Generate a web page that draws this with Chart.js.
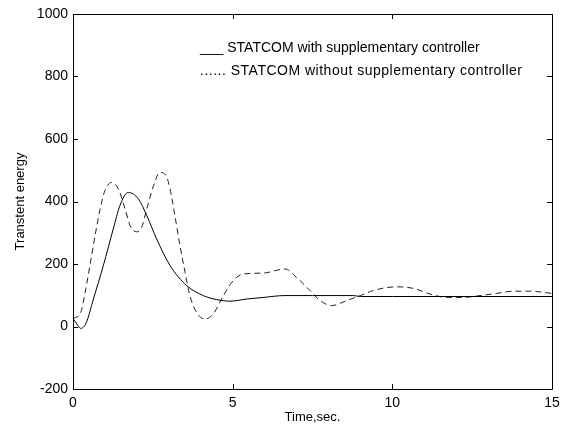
<!DOCTYPE html>
<html>
<head>
<meta charset="utf-8">
<script src="https://cdn.jsdelivr.net/npm/chart.js@4.4.0/dist/chart.umd.min.js"></script>
<style>
  html, body { margin: 0; padding: 0; background: #fff; }
  #wrap { width: 567px; height: 430px; }
</style>
</head>
<body>
<div id="wrap"><canvas id="chart" width="567" height="430"></canvas></div>
<script>
// values
const timeWith = [0, 0.12, 0.24, 0.41, 0.64, 0.95, 1.26, 1.47, 1.73, 2.05, 2.31, 2.62, 3.04, 3.56, 4.08, 4.5, 4.92, 5.44, 5.96, 6.64, 7.5, 8.78, 9.0, 10, 12, 15];
const energyWith = [26, 8, -6, 11, 88, 195, 312, 387, 429, 408, 355, 280, 195, 131, 99, 86, 81, 88, 93, 99, 99, 99, 96, 96, 96, 96];

const timeWithout = [0, 0.24, 0.38, 0.53, 0.69, 0.85, 1.0, 1.21, 1.42, 1.63, 1.79, 1.99, 2.15, 2.31, 2.52, 2.72, 2.9, 3.04, 3.19, 3.35, 3.51, 3.66, 3.87, 4.13, 4.39, 4.71, 5.02, 5.33, 5.96, 6.64, 7.0, 7.42, 7.74, 8.1, 8.57, 9.0, 9.4, 10.14, 10.66, 11.18, 11.7, 12.22, 12.75, 13.27, 13.79, 14.3, 15];
const energyWithout = [25, 45, 109, 195, 290, 376, 435, 461, 440, 376, 323, 303, 317, 376, 450, 493, 485, 440, 355, 259, 173, 99, 45, 24, 40, 99, 147, 168, 171, 184, 157, 115, 83, 67, 83, 99, 115, 127, 122, 104, 93, 93, 99, 106, 113, 113, 106];

const legendLines = [
  '___ STATCOM with supplementary controller',
  '...... STATCOM without supplementary controller'
];

const FONT = '"Liberation Sans", Arial, Helvetica, sans-serif';

const toPoints = (xs, ys) => xs.map((x, i) => ({ x: x, y: ys[i] }));

// matlab style box with inward ticks, plus the text legend
const boxPlugin = {
  id: 'box',
  afterDraw(chart) {
    const ctx = chart.ctx;
    const a = chart.chartArea;
    const xs = chart.scales.x;
    const ys = chart.scales.y;
    ctx.save();
    ctx.strokeStyle = '#000';
    ctx.lineWidth = 1;
    ctx.beginPath();
    ctx.rect(a.left + 0.5, a.top + 0.5, a.right - a.left, a.bottom - a.top);
    xs.ticks.forEach(t => {
      const px = Math.round(xs.getPixelForValue(t.value)) + 0.5;
      ctx.moveTo(px, a.bottom);
      ctx.lineTo(px, a.bottom - 5);
      ctx.moveTo(px, a.top);
      ctx.lineTo(px, a.top + 5);
    });
    ys.ticks.forEach(t => {
      const py = Math.round(ys.getPixelForValue(t.value)) + 0.5;
      ctx.moveTo(a.left, py);
      ctx.lineTo(a.left + 5, py);
      ctx.moveTo(a.right, py);
      ctx.lineTo(a.right - 5, py);
    });
    ctx.stroke();

    ctx.fillStyle = '#000';
    ctx.font = '14px ' + FONT;
    ctx.textBaseline = 'alphabetic';
    ctx.fillText(legendLines[0], a.left + 127, a.top + 38);
    ctx.letterSpacing = '0.5px';
    ctx.fillText(legendLines[1], a.left + 127, a.top + 61);
    ctx.restore();
  }
};

new Chart(document.getElementById('chart'), {
  type: 'line',
  data: {
    datasets: [{
      label: 'with',
      data: toPoints(timeWith, energyWith),
      borderColor: '#000',
      borderWidth: 1,
      pointRadius: 0,
      cubicInterpolationMode: 'monotone'
    }, {
      label: 'without',
      data: toPoints(timeWithout, energyWithout),
      borderColor: '#222',
      borderWidth: 1,
      borderDash: [6, 4],
      pointRadius: 0,
      cubicInterpolationMode: 'monotone'
    }]
  },
  options: {
    responsive: false,
    animation: false,
    layout: { padding: { top: 14, right: 15, left: 0, bottom: 0 } },
    plugins: {
      legend: { display: false },
      tooltip: { enabled: false }
    },
    scales: {
      x: {
        type: 'linear',
        min: 0,
        max: 15,
        afterFit(scale) { scale.height = 41; },
        grid: { display: false, drawTicks: false },
        border: { display: false },
        ticks: { stepSize: 5, color: '#000', padding: 6, font: { family: FONT, size: 14 } },
        title: { display: true, text: 'Time,sec.', color: '#000', padding: { top: 0, bottom: 5 }, font: { family: FONT, size: 13 } }
      },
      y: {
        min: -200,
        max: 1000,
        afterFit(scale) { scale.width = 73; },
        grid: { display: false, drawTicks: false },
        border: { display: false },
        ticks: {
          stepSize: 200, color: '#000', padding: 5, font: { family: FONT, size: 14 },
          callback: v => String(v)
        },
        title: { display: true, text: 'Transtent energy', color: '#000', padding: { top: 13, bottom: 0 }, font: { family: FONT, size: 13 } }
      }
    }
  },
  plugins: [boxPlugin]
});
</script>
</body>
</html>
